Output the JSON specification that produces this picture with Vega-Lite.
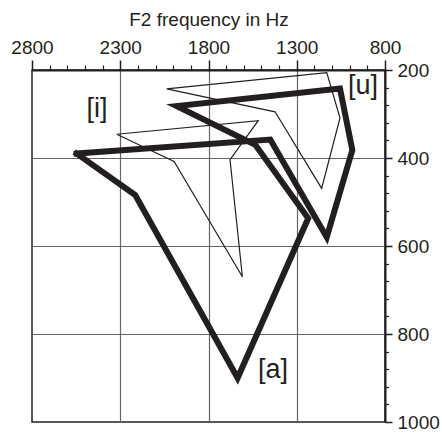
{
  "$schema": "https://vega.github.io/schema/vega-lite/v6.json",
  "width": 353,
  "height": 352,
  "autosize": "none",
  "padding": {"left": 32, "top": 70, "right": 57, "bottom": 12},
  "config": {
    "view": {"stroke": "#231f20", "strokeWidth": 1.5},
    "font": "Liberation Sans"
  },
  "datasets": {
    "thick": [
      {"F2": 2547, "F1": 390, "ord": 1},
      {"F2": 1450, "F1": 358, "ord": 2},
      {"F2": 1130, "F1": 580, "ord": 3},
      {"F2": 985, "F1": 382, "ord": 4},
      {"F2": 1055, "F1": 242, "ord": 5},
      {"F2": 1980, "F1": 282, "ord": 6},
      {"F2": 1535, "F1": 370, "ord": 7},
      {"F2": 1235, "F1": 537, "ord": 8},
      {"F2": 1635, "F1": 900, "ord": 9},
      {"F2": 2215, "F1": 484, "ord": 10},
      {"F2": 2547, "F1": 390, "ord": 11}
    ],
    "thin": [
      {"grp": "A", "F2": 2320, "F1": 346, "ord": 1},
      {"grp": "A", "F2": 1518, "F1": 315, "ord": 2},
      {"grp": "A", "F2": 1678, "F1": 404, "ord": 3},
      {"grp": "A", "F2": 1608, "F1": 670, "ord": 4},
      {"grp": "A", "F2": 1995, "F1": 408, "ord": 5},
      {"grp": "A", "F2": 2320, "F1": 346, "ord": 6},
      {"grp": "B", "F2": 2037, "F1": 243, "ord": 1},
      {"grp": "B", "F2": 1130, "F1": 206, "ord": 2},
      {"grp": "B", "F2": 1055, "F1": 309, "ord": 3},
      {"grp": "B", "F2": 1159, "F1": 469, "ord": 4},
      {"grp": "B", "F2": 1423, "F1": 295, "ord": 5},
      {"grp": "B", "F2": 2037, "F1": 243, "ord": 6}
    ],
    "labels": [
      {"label": "[i]", "F2": 2432, "F1": 306},
      {"label": "[u]", "F2": 924, "F1": 254},
      {"label": "[a]", "F2": 1434, "F1": 899}
    ]
  },
  "layer": [
    {
      "data": {"name": "thin"},
      "mark": {"type": "line", "color": "#231f20", "strokeWidth": 1.2, "strokeJoin": "miter"},
      "encoding": {
        "x": {
          "field": "F2", "type": "quantitative",
          "scale": {"domain": [2800, 800], "nice": false, "zero": false},
          "axis": {
            "orient": "top", "title": null, "labels": false, "domain": false, "grid": false,
            "values": [2700, 2600, 2500, 2400, 2200, 2100, 2000, 1900, 1700, 1600, 1500, 1400, 1200, 1100, 1000, 900],
            "tickSize": 5, "tickWidth": 1.2, "tickColor": "#231f20"
          }
        },
        "y": {
          "field": "F1", "type": "quantitative",
          "scale": {"domain": [1000, 200], "nice": false, "zero": false},
          "axis": {
            "orient": "right", "title": null, "labels": false, "domain": false, "grid": false,
            "values": [240, 280, 320, 360, 440, 480, 520, 560, 640, 680, 720, 760, 840, 880, 920, 960],
            "tickSize": 3.5, "tickWidth": 1.2, "tickColor": "#231f20"
          }
        },
        "detail": {"field": "grp"},
        "order": {"field": "ord", "type": "quantitative"}
      }
    },
    {
      "data": {"name": "thick"},
      "mark": {"type": "line", "color": "#231f20", "strokeWidth": 6, "strokeJoin": "miter", "strokeMiterLimit": 10, "strokeCap": "square"},
      "encoding": {
        "x": {
          "field": "F2", "type": "quantitative",
          "scale": {"domain": [2800, 800], "nice": false, "zero": false},
          "axis": {
            "orient": "top", "values": [2800, 2300, 1800, 1300, 800], "format": "d",
            "title": "F2 frequency in Hz", "titleFontSize": 19, "titleFontWeight": "normal",
            "titleColor": "#231f20", "titleY": -45, "titleBaseline": "alphabetic",
            "labelFontSize": 19, "labelColor": "#231f20", "labelBaseline": "alphabetic",
            "labelPadding": 7, "labelFlush": false, "labelOverlap": false,
            "tickSize": 10, "tickWidth": 1.5, "tickColor": "#231f20",
            "domainColor": "#231f20", "domainWidth": 2,
            "grid": true, "gridWidth": 1.2,
            "gridColor": {"condition": {"test": "datum.value == 2800 || datum.value == 800", "value": "transparent"}, "value": "#666666"}
          }
        },
        "y": {
          "field": "F1", "type": "quantitative",
          "scale": {"domain": [1000, 200], "nice": false, "zero": false},
          "axis": {
            "orient": "right", "values": [200, 400, 600, 800, 1000], "format": "d", "title": null,
            "labelFontSize": 19, "labelColor": "#231f20", "labelPadding": 5,
            "labelFlush": false, "labelOverlap": false,
            "tickSize": 7, "tickWidth": 1.5, "tickColor": "#231f20",
            "domainColor": "#231f20", "domainWidth": 2,
            "grid": true, "gridWidth": 1.2,
            "gridColor": {"condition": {"test": "datum.value == 200 || datum.value == 1000", "value": "transparent"}, "value": "#666666"}
          }
        },
        "order": {"field": "ord", "type": "quantitative"}
      }
    },
    {
      "data": {"name": "labels"},
      "mark": {"type": "text", "fontSize": 27, "color": "#231f20", "align": "center", "baseline": "alphabetic"},
      "encoding": {
        "x": {"field": "F2", "type": "quantitative", "scale": {"domain": [2800, 800], "nice": false, "zero": false}, "axis": null},
        "y": {"field": "F1", "type": "quantitative", "scale": {"domain": [1000, 200], "nice": false, "zero": false}, "axis": null},
        "text": {"field": "label"}
      }
    }
  ],
  "resolve": {"axis": {"x": "independent", "y": "independent"}}
}
